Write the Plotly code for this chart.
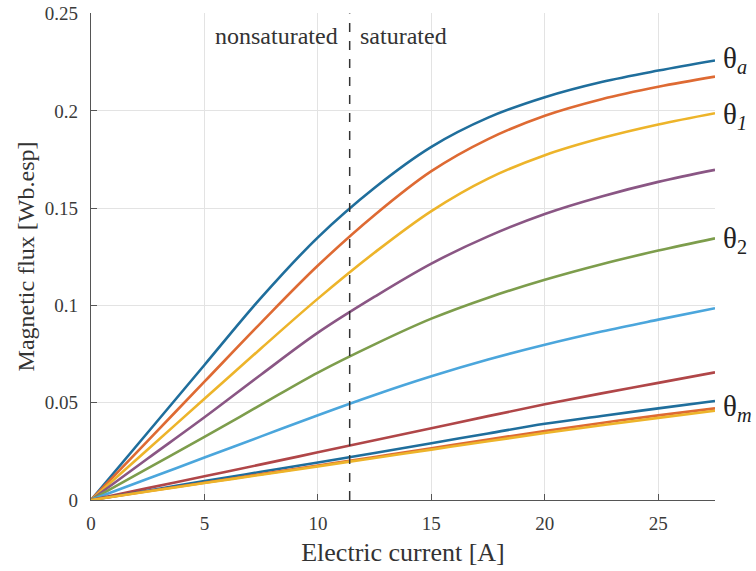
import plotly.graph_objects as go

# Electric current [A]
current = [0, 2.5, 5, 7.5, 10, 12.5, 15, 17.5, 20, 22.5, 25, 27.5]

# Magnetic flux [Wb.esp] per curve (top to bottom)
flux_a = [0, 0.0347, 0.0694, 0.1040, 0.1350, 0.1605, 0.1815, 0.1965, 0.2070, 0.2148, 0.2207, 0.2259]
flux_b = [0, 0.0304, 0.0608, 0.0912, 0.1205, 0.1465, 0.1690, 0.1855, 0.1975, 0.2060, 0.2124, 0.2176]
flux_1 = [0, 0.0260, 0.0520, 0.0780, 0.1035, 0.1272, 0.1485, 0.1652, 0.1772, 0.1860, 0.1930, 0.1988]
flux_c = [0, 0.0213, 0.0425, 0.0645, 0.0860, 0.1045, 0.1215, 0.1355, 0.1470, 0.1560, 0.1635, 0.1697]
flux_2 = [0, 0.0162, 0.0324, 0.0490, 0.0655, 0.0800, 0.0932, 0.1040, 0.1132, 0.1212, 0.1282, 0.1345]
flux_d = [0, 0.0109, 0.0218, 0.0327, 0.0436, 0.0540, 0.0636, 0.0722, 0.0798, 0.0866, 0.0927, 0.0986]
flux_e = [0, 0.0061, 0.0122, 0.0183, 0.0245, 0.0307, 0.0369, 0.0431, 0.0492, 0.0548, 0.0602, 0.0656]
flux_f = [0, 0.0048, 0.0097, 0.0145, 0.0193, 0.0242, 0.0292, 0.0342, 0.0392, 0.0432, 0.0471, 0.0509]
flux_m = [0, 0.0045, 0.0089, 0.0133, 0.0177, 0.0221, 0.0266, 0.0311, 0.0355, 0.0396, 0.0435, 0.0471]
flux_g = [0, 0.0044, 0.0087, 0.0130, 0.0173, 0.0216, 0.0259, 0.0302, 0.0344, 0.0384, 0.0422, 0.0459]

series = [flux_a, flux_b, flux_1, flux_c, flux_2, flux_d, flux_e, flux_f, flux_m, flux_g]
colors = ['#1f6e9c', '#de6a33', '#edb42a', '#8a5684', '#7d9d4c',
          '#4ba6dc', '#b04648', '#1f6e9c', '#de6a33', '#edb42a']

saturation_current = 11.4
x_ticks = [0, 5, 10, 15, 20, 25]
y_ticks = [0, 0.05, 0.1, 0.15, 0.2, 0.25]
y_tick_text = ['0', '0.05', '0.1', '0.15', '0.2', '0.25']

# curve labels: (text, index of curve whose end it labels, vertical nudge in px)
curve_labels = [('θ<sub><i>a</i></sub>', 0, 0), ('θ<sub><i>1</i></sub>', 2, -3),
                ('θ<sub>2</sub>', 4, -2), ('θ<sub><i>m</i></sub>', 8, 0)]

FONT = 'Liberation Serif, Times New Roman, serif'

fig = go.Figure()
for ys, c in zip(series, colors):
    fig.add_trace(go.Scatter(x=current, y=ys, mode='lines',
                             line=dict(color=c, width=2.6, shape='spline', smoothing=1.0),
                             showlegend=False, hoverinfo='skip'))

fig.add_shape(type='line', x0=saturation_current, x1=saturation_current, y0=0, y1=0.25,
              xref='x', yref='y', line=dict(color='#333333', width=1.5, dash='dash'))

fig.add_annotation(x=saturation_current, y=0.2386, xref='x', yref='y', text='nonsaturated',
                   showarrow=False, xanchor='right', yanchor='middle', xshift=-10,
                   font=dict(family=FONT, size=24, color='#333333'))
fig.add_annotation(x=saturation_current, y=0.2386, xref='x', yref='y', text='saturated',
                   showarrow=False, xanchor='left', yanchor='middle', xshift=8,
                   font=dict(family=FONT, size=24, color='#333333'))

for text, idx, nudge in curve_labels:
    fig.add_annotation(x=current[-1], y=series[idx][-1], xref='x', yref='y', text=text,
                       showarrow=False, xanchor='left', yanchor='middle', xshift=6, yshift=nudge,
                       font=dict(family=FONT, size=29, color='#222222'))

fig.update_layout(
    width=756, height=571,
    margin=dict(l=91, r=41, t=13, b=71),
    paper_bgcolor='white', plot_bgcolor='white',
    font=dict(family=FONT, color='#333333'),
    xaxis=dict(range=[0, current[-1]], tickvals=x_ticks, ticks='inside', ticklen=6,
               tickcolor='#555555', showline=True, linecolor='#555555', linewidth=1.2,
               showgrid=True, gridcolor='#e3e3e3', gridwidth=1, zeroline=False, automargin=False,
               tickfont=dict(family=FONT, size=19, color='#3a3a3a'), ticklabelstandoff=6,
               title=dict(text='Electric current [A]', font=dict(family=FONT, size=26, color='#333333'),
                          standoff=9)),
    yaxis=dict(range=[0, 0.2503], tickvals=y_ticks, ticktext=y_tick_text, ticks='inside', ticklen=6,
               tickcolor='#555555', showline=True, linecolor='#555555', linewidth=1.2,
               showgrid=True, gridcolor='#e3e3e3', gridwidth=1, zeroline=False, automargin=False,
               tickfont=dict(family=FONT, size=19, color='#3a3a3a'), ticklabelstandoff=8,
               title=dict(text='Magnetic flux [Wb.esp]', font=dict(family=FONT, size=24, color='#333333'),
                          standoff=3)),
)

# remove the browser's default 8px page margin so the figure fills the window exactly
fig.write_html('out.html', config={'displayModeBar': False},
               post_script="document.body.style.margin='0';")
